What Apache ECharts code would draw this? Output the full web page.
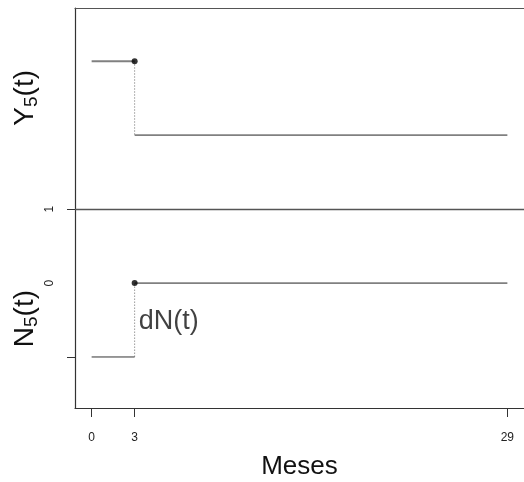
<!DOCTYPE html>
<html>
<head>
<meta charset="utf-8">
<script src="https://cdn.jsdelivr.net/npm/echarts@6/dist/echarts.min.js"></script>
<style>
  html, body { margin: 0; padding: 0; background: #fff; }
  #chart { width: 524px; height: 482px; }
</style>
</head>
<body>
<div id="chart"></div>
<script>
// Counting process for subject 5: at-risk indicator Y5(t) and counting process N5(t)
const xTicks = [0, 3, 29];          // time points shown on the axis (months)
const jumpTime = 3;                 // event time
const endTime = 29;                 // end of follow-up
const startTime = 0;
const yBefore = [3, -1];            // Y5 and N5 levels before the event (plot units)
const yAfter = [2, 0];              // Y5 and N5 levels after the event
const refLevel = 1;                 // horizontal separator
const yTickLabels = [0, 1];
const yTickMarks = [-1, 1];

const FONT = 'Liberation Sans, Arial, sans-serif';
const solid = (data, color, width) => ({
  type: 'line', data, symbol: 'none', silent: true,
  lineStyle: { color, width }, z: 3
});
const dotted = (data) => ({
  type: 'line', data, symbol: 'none', silent: true,
  lineStyle: { color: '#9a9a9a', width: 1, type: [1.5, 1.5] }, z: 2
});

const series = [];
// Y5(t)
series.push(solid([[startTime, yBefore[0]], [jumpTime, yBefore[0]]], '#808080', 1.8));
series.push(dotted([[jumpTime, yBefore[0]], [jumpTime, yAfter[0]]]));
series.push(solid([[jumpTime, yAfter[0]], [endTime, yAfter[0]]], '#808080', 1.8));
// N5(t)
series.push(solid([[startTime, yBefore[1]], [jumpTime, yBefore[1]]], '#333', 1));
series.push(dotted([[jumpTime, yBefore[1]], [jumpTime, yAfter[1]]]));
series.push(solid([[jumpTime, yAfter[1]], [endTime, yAfter[1]]], '#808080', 1.8));
// jump points
series.push({
  type: 'scatter', silent: true, symbolSize: 6, z: 4,
  itemStyle: { color: '#000' },
  data: [[jumpTime, yBefore[0]], [jumpTime, yAfter[1]]]
});
// dN(t) annotation next to the jump
series.push({
  type: 'scatter', silent: true, symbolSize: 0, z: 5,
  data: [[jumpTime, (yBefore[1] + yAfter[1]) / 2]],
  label: {
    show: true, position: 'right', distance: 4, offset: [0, 2], formatter: 'dN(t)',
    fontFamily: FONT, fontSize: 27, color: '#111'
  }
});
// separator across the full width
series.push({
  type: 'line', data: [], silent: true,
  markLine: {
    silent: true, symbol: 'none', label: { show: false },
    lineStyle: { color: '#555', width: 1.3, type: 'solid' },
    data: [{ yAxis: refLevel }]
  }
});

const subRich = {
  b: { fontSize: 28, fontFamily: FONT, fill: '#111' },
  s: { fontSize: 19, fontFamily: FONT, fill: '#111', padding: [13, 0, 0, 0] }
};

const chart = echarts.init(document.getElementById('chart'), null, { renderer: 'canvas' });
chart.setOption({
  animation: false,
  backgroundColor: '#fff',
  grid: { left: 75, right: 0, top: 8, bottom: 74, containLabel: false, outerBoundsMode: 'none' },
  xAxis: [{
    type: 'value', position: 'bottom', min: -1.16, max: 30.16,
    splitLine: { show: false },
    axisLine: { show: true, onZero: false, lineStyle: { color: '#333', width: 1.2 } },
    axisTick: { show: true, length: 9, customValues: xTicks, lineStyle: { color: '#333' } },
    axisLabel: { customValues: xTicks, fontFamily: FONT, fontSize: 12, color: '#222', margin: 24 },
    name: 'Meses', nameLocation: 'middle', nameGap: 46,
    nameTextStyle: { fontFamily: FONT, fontSize: 26, color: '#111' }
  }, {
    type: 'value', position: 'top', min: -1.16, max: 30.16,
    splitLine: { show: false },
    axisLine: { show: true, onZero: false, lineStyle: { color: '#555', width: 1.2 } },
    axisTick: { show: false }, axisLabel: { show: false }
  }],
  yAxis: {
    type: 'value', min: -1.69, max: 3.72,
    splitLine: { show: false },
    axisLine: { show: true, onZero: false, lineStyle: { color: '#333', width: 1.2 } },
    axisTick: { show: true, length: 8, customValues: yTickMarks, lineStyle: { color: '#333' } },
    axisLabel: { customValues: yTickLabels, rotate: 90, margin: 19, fontFamily: FONT, fontSize: 12, color: '#222' }
  },
  graphic: [{
    type: 'text', left: 11, top: 70, rotation: Math.PI / 2,
    style: { text: '{b|Y}{s|5}{b|(t)}', fontFamily: FONT, rich: subRich }
  }, {
    type: 'text', left: 11, top: 290, rotation: Math.PI / 2,
    style: { text: '{b|N}{s|5}{b|(t)}', fontFamily: FONT, rich: subRich }
  }],
  series
});
</script>
</body>
</html>
